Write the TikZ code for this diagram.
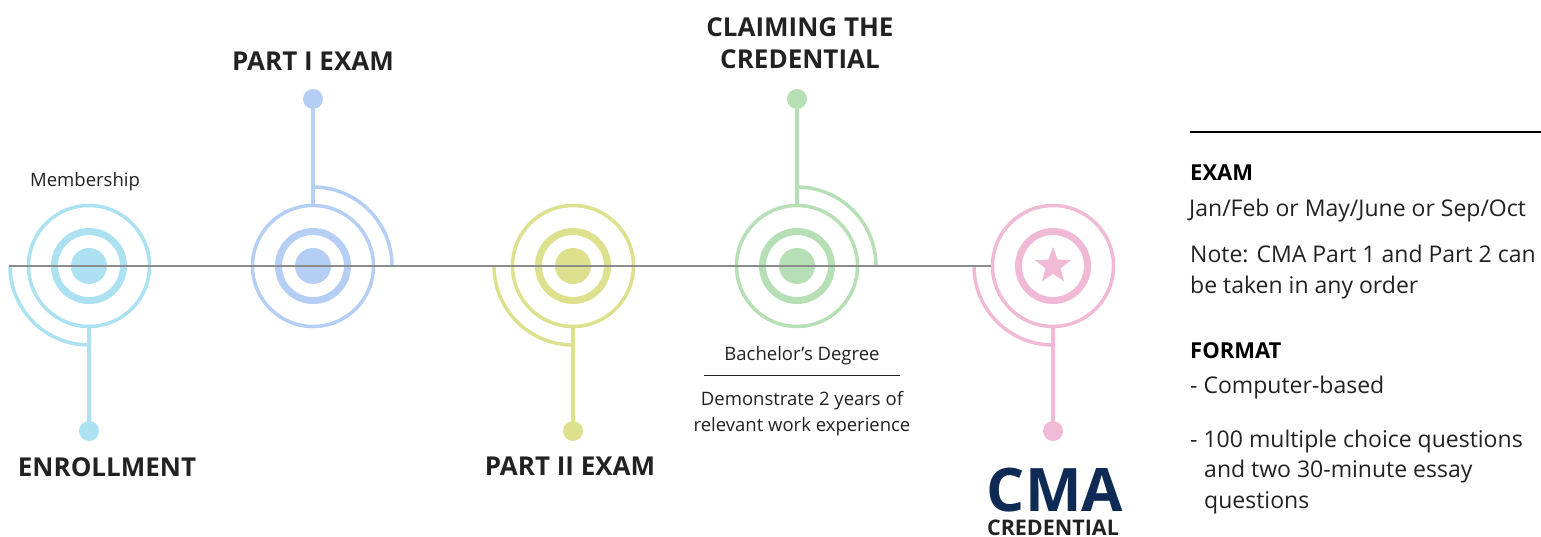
\documentclass[tikz,border=0pt]{standalone}
\usepackage{fontspec}
\setmainfont{Open Sans}
\usetikzlibrary{shapes.geometric}
\definecolor{ccyan}{HTML}{ABE1F0}
\definecolor{cblue}{HTML}{B4CEF4}
\definecolor{cyel}{HTML}{DDE08D}
\definecolor{cgreen}{HTML}{B7DFB6}
\definecolor{cpink}{HTML}{F0BAD6}
\definecolor{navy}{HTML}{0E2A55}
\definecolor{tgray}{HTML}{222222}
\tikzset{
  outerring/.style={circle,draw=#1,line width=3.5pt,minimum size=121pt,inner sep=0pt},
  midring/.style={circle,draw=#1,line width=7pt,minimum size=69pt,inner sep=0pt},
  cdot/.style={circle,fill=#1,minimum size=36pt,inner sep=0pt},
  enddot/.style={circle,fill=#1,minimum size=20pt,inner sep=0pt},
  stem/.style={draw=#1,line width=3.5pt},
  heading/.style={font=\fontsize{26}{31}\selectfont\bfseries,text=tgray,inner sep=0pt,anchor=base},
  small/.style={font=\fontsize{18.5}{23}\selectfont,text=tgray,inner sep=0pt,anchor=base},
  body/.style={font=\fontsize{23}{28}\selectfont,text=tgray,inner sep=0pt,anchor=base west},
  bodyhead/.style={font=\fontsize{22}{26}\selectfont\bfseries,text=black,inner sep=0pt,anchor=base west},
}
\begin{document}
\begin{tikzpicture}[x=1pt,y=-1pt]
\useasboundingbox (0,0) rectangle (1541,537);
% centers
\coordinate (c1) at (89,266);
\coordinate (c2) at (313,266);
\coordinate (c3) at (573,266);
\coordinate (c4) at (797,266);
\coordinate (c5) at (1053,266);
% step 1
\node[outerring=ccyan] (o1) at (c1) {};
\node[midring=ccyan] (m1) at (c1) {};
\node[cdot=ccyan] (k1) at (c1) {};
\node[enddot=ccyan] (d1) at (89,431) {};
\draw[stem=ccyan] (o1.south) -- (d1);
\draw[stem=ccyan] (c1) ++(-79pt,0pt) arc[start angle=180,end angle=270,radius=79pt];
% step 2
\node[outerring=cblue] (o2) at (c2) {};
\node[midring=cblue] (m2) at (c2) {};
\node[cdot=cblue] (k2) at (c2) {};
\node[enddot=cblue] (d2) at (313,99) {};
\draw[stem=cblue] (o2.north) -- (d2);
\draw[stem=cblue] (c2) ++(0pt,79pt) arc[start angle=90,end angle=0,radius=79pt];
% step 3
\node[outerring=cyel] (o3) at (c3) {};
\node[midring=cyel] (m3) at (c3) {};
\node[cdot=cyel] (k3) at (c3) {};
\node[enddot=cyel] (d3) at (573,431) {};
\draw[stem=cyel] (o3.south) -- (d3);
\draw[stem=cyel] (c3) ++(-79pt,0pt) arc[start angle=180,end angle=270,radius=79pt];
% step 4
\node[outerring=cgreen] (o4) at (c4) {};
\node[midring=cgreen] (m4) at (c4) {};
\node[cdot=cgreen] (k4) at (c4) {};
\node[enddot=cgreen] (d4) at (797,99) {};
\draw[stem=cgreen] (o4.north) -- (d4);
\draw[stem=cgreen] (c4) ++(0pt,79pt) arc[start angle=90,end angle=0,radius=79pt];
% step 5
\node[outerring=cpink] (o5) at (c5) {};
\node[midring=cpink] (m5) at (c5) {};
\node[star,star points=5,star point ratio=2.4,fill=cpink,minimum size=38pt,inner sep=0pt] (s5) at (c5) {};
\node[enddot=cpink] (d5) at (1053,431) {};
\draw[stem=cpink] (o5.south) -- (d5);
\draw[stem=cpink] (c5) ++(-79pt,0pt) arc[start angle=180,end angle=270,radius=79pt];
% timeline
\coordinate (tl) at (9,266);
\draw[draw=gray!90,line width=1.5pt] (tl) -- (o5.west);
% labels
\node[small] (mem) at (85,187) {Membership};
\node[heading] (enr) at (107,476) {ENROLLMENT};
\node[heading] (p1) at (313,71) {PART I EXAM};
\node[heading] (p2) at (570,475) {PART II EXAM};
\node[heading] (cl1) at (800,37) {CLAIMING THE};
\node[heading] (cl2) at (800,69) {CREDENTIAL};
\node[small] (bach) at (802,360) {Bachelor’s Degree};
\coordinate (bl) at (704,375);
\coordinate (br) at (900,375);
\draw[line width=0.8pt,draw=tgray] (bl) -- (br);
\node[small] (dem1) at (802,405) {Demonstrate 2 years of};
\node[small] (dem2) at (802,431) {relevant work experience};
\node[font=\fontsize{60}{60}\selectfont\bfseries,text=navy,inner sep=0pt,anchor=base] (cma) at (1055,511) {CMA};
\node[font=\fontsize{21.5}{24}\selectfont\bfseries,text=tgray,inner sep=0pt,anchor=base] (cred) at (1053,535) {CREDENTIAL};
% right panel
\coordinate (rl) at (1190,132);
\coordinate (rr) at (1541,132);
\draw[line width=1.2pt,draw=black] (rl) -- (rr);
\node[bodyhead] (exh) at (1190,181) {EXAM};
\node[body] (ex1) at (1189,217) {Jan/Feb or May/June or Sep/Oct};
\node[body] (ex2) at (1190,262) {Note: CMA Part 1 and Part 2 can};
\node[body] (ex3) at (1190,293) {be taken in any order};
\node[bodyhead] (fmh) at (1190,358) {FORMAT};
\node[body] (fm1) at (1190,393) {- Computer-based};
\node[body] (fm2) at (1190,447) {- 100 multiple choice questions};
\node[body] (fm3) at (1204,477) {and two 30-minute essay};
\node[body] (fm4) at (1204,508) {questions};
\end{tikzpicture}
\end{document}
